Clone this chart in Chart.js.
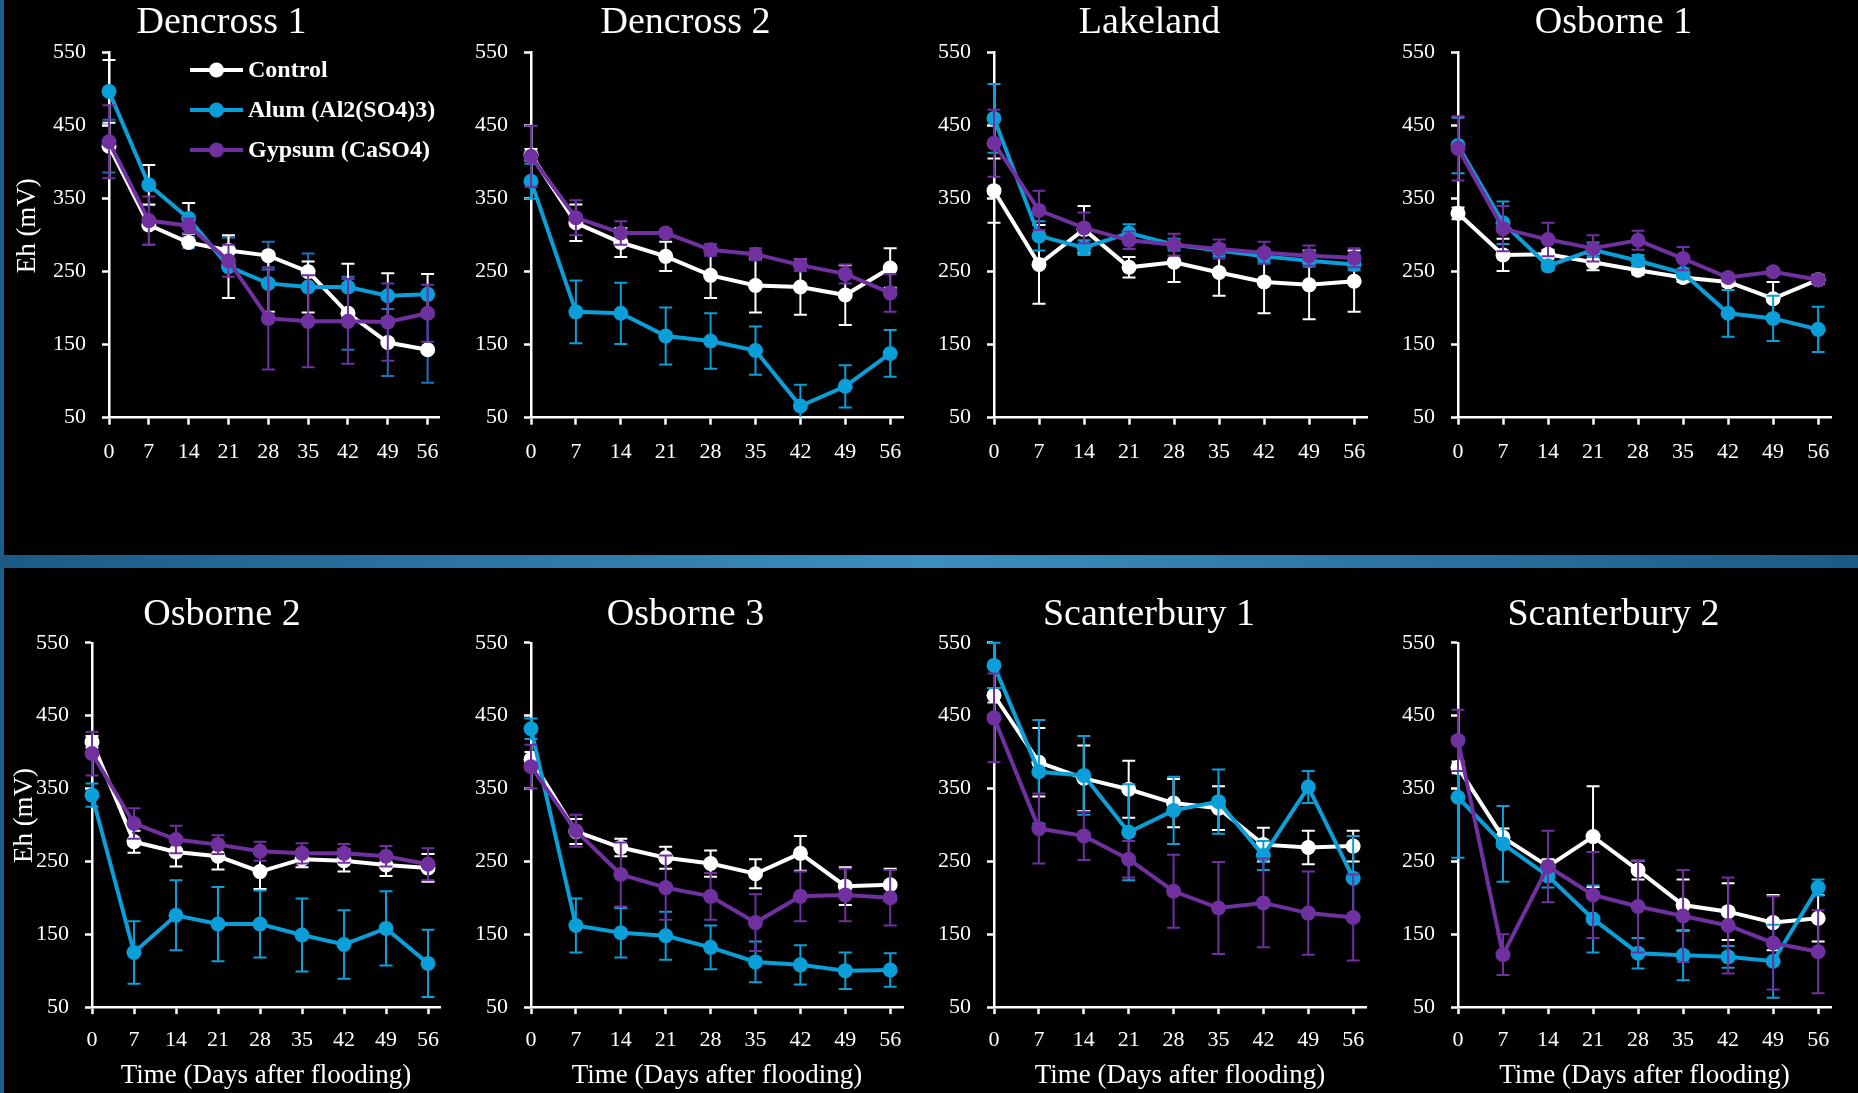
<!DOCTYPE html>
<html>
<head>
<meta charset="utf-8">
<script src="https://cdn.jsdelivr.net/npm/chart.js@4.4.1/dist/chart.umd.min.js"></script>
<style>
  html, body { margin: 0; padding: 0; background: #000; width: 1858px; height: 1093px; overflow: hidden; position: relative; }
  .edge { position: absolute; left: 0; top: 0; width: 4px; height: 1093px; background: #1d5f8c; }
  .band { position: absolute; left: 0; top: 555px; width: 1858px; height: 13px;
          background: linear-gradient(90deg, #1b5a86 0%, #3b8fc0 50%, #1b5a86 100%); }
  canvas { position: absolute; }
</style>
</head>
<body>
<div class="edge"></div>
<div class="band"></div>
<script>
// Sampling days after flooding and the Eh axis ticks
const days = [0, 7, 14, 21, 28, 35, 42, 49, 56];
const ehTicks = [50, 150, 250, 350, 450, 550];

const sites = ['Dencross 1', 'Dencross 2', 'Lakeland', 'Osborne 1',
               'Osborne 2', 'Osborne 3', 'Scanterbury 1', 'Scanterbury 2'];

const seriesNames = ['Control', 'Alum (Al2(SO4)3)', 'Gypsum (CaSO4)'];

// Mean Eh (mV), one row per site
const controlEh = [
  [422, 314, 290, 279, 272, 250, 193, 153, 143],
  [410, 317, 290, 271, 245, 231, 229, 218, 255],
  [361, 260, 308, 256, 263, 249, 236, 232, 237],
  [330, 273, 274, 263, 252, 242, 236, 213, 239],
  [414, 277, 263, 257, 236, 253, 251, 245, 241],
  [390, 291, 269, 255, 247, 233, 261, 216, 218],
  [478, 386, 364, 349, 330, 323, 273, 269, 271],
  [379, 283, 243, 284, 238, 190, 181, 166, 172]
];
const alumEh = [
  [497, 369, 323, 257, 234, 229, 229, 217, 219],
  [374, 195, 193, 162, 155, 142, 66, 93, 138],
  [460, 299, 283, 303, 287, 279, 271, 265, 260],
  [423, 317, 258, 280, 265, 248, 193, 186, 171],
  [341, 125, 176, 164, 164, 149, 136, 158, 110],
  [432, 162, 152, 148, 132, 112, 108, 100, 101],
  [519, 373, 368, 290, 320, 332, 258, 352, 227],
  [338, 274, 230, 171, 124, 121, 119, 113, 214]
];
const gypsumEh = [
  [428, 320, 313, 265, 186, 182, 182, 181, 193],
  [408, 324, 303, 303, 280, 274, 259, 247, 221],
  [426, 334, 310, 293, 287, 281, 276, 272, 269],
  [419, 309, 294, 282, 293, 268, 242, 250, 239],
  [398, 302, 280, 273, 264, 261, 261, 257, 246],
  [380, 292, 232, 214, 202, 166, 202, 204, 200],
  [447, 295, 285, 253, 209, 186, 193, 179, 173],
  [416, 122, 243, 204, 188, 175, 162, 138, 126]
];

// Standard errors (mV)
const controlErr = [
  [36, 27, 8, 18, 19, 25, 50, 46, 45],
  [8, 25, 20, 20, 31, 37, 38, 41, 27],
  [44, 54, 32, 14, 27, 32, 43, 47, 42],
  [8, 22, 6, 11, 6, 6, 6, 23, 6],
  [8, 15, 20, 18, 24, 11, 15, 15, 19],
  [10, 17, 12, 15, 18, 20, 24, 26, 22],
  [10, 47, 45, 39, 33, 30, 23, 23, 21],
  [8, 12, 10, 69, 13, 35, 39, 38, 32]
];
const alumErr = [
  [43, 27, 21, 43, 39, 35, 32, 31, 28],
  [24, 43, 42, 39, 38, 33, 29, 29, 32],
  [47, 20, 10, 12, 8, 8, 8, 8, 8],
  [38, 29, 6, 10, 8, 6, 32, 31, 31],
  [16, 43, 48, 51, 46, 50, 47, 51, 46],
  [14, 37, 34, 33, 30, 28, 27, 25, 23],
  [31, 71, 54, 66, 46, 44, 20, 22, 58],
  [83, 52, 16, 46, 21, 34, 15, 50, 11]
];
const gypsumErr = [
  [50, 33, 10, 22, 70, 63, 58, 53, 39],
  [42, 24, 16, 5, 8, 8, 8, 13, 26],
  [46, 27, 21, 12, 15, 13, 15, 14, 13],
  [44, 31, 23, 18, 13, 16, 5, 5, 5],
  [30, 21, 19, 13, 13, 14, 13, 14, 22],
  [30, 22, 44, 44, 32, 39, 34, 36, 38],
  [61, 48, 33, 25, 50, 63, 61, 57, 59],
  [42, 28, 49, 59, 63, 63, 66, 64, 57]
];

// ---- styling ----
const WHITE = '#ffffff';
const BLUE = '#0a9fd8';
const PURPLE = '#7030a0';
const DARK_BLUE = '#1a74bd';
const FONT = "'Liberation Serif', 'Times New Roman', serif";

Chart.defaults.font.family = FONT;
Chart.defaults.color = WHITE;

// panel frames on the page
const frames = [
  { left: 4,    top: 0,   w: 464, h: 480, yw: 105, pr: 29, tTop: 4.5, tBot: 10.2, yTitle: 7.8, key: true },
  { left: 468,  top: 0,   w: 464, h: 480, yw: 63,  pr: 29, tTop: 4.5, tBot: 10.2 },
  { left: 932,  top: 0,   w: 464, h: 480, yw: 62,  pr: 29, tTop: 4.5, tBot: 10.2 },
  { left: 1396, top: 0,   w: 462, h: 480, yw: 62,  pr: 27, tTop: 4.5, tBot: 10.2 },
  { left: 4,    top: 588, w: 464, h: 505, yw: 88,  pr: 28, tTop: 8.3, tBot: 8.5, yTitle: 4.8, xTitle: true },
  { left: 468,  top: 588, w: 464, h: 505, yw: 63,  pr: 29, tTop: 8.3, tBot: 8.5, xTitle: true },
  { left: 932,  top: 588, w: 464, h: 505, yw: 62,  pr: 30, tTop: 8.3, tBot: 8.5, xTitle: true },
  { left: 1396, top: 588, w: 462, h: 505, yw: 62,  pr: 27, tTop: 8.3, tBot: 8.5, xTitle: true }
];
const axisBottom = [417.7, 1007.1];
const tickPad = [14, 12.7];

// vertical error bars with caps, drawn beneath each series' line
const errorBars = {
  id: 'errorBars',
  beforeDatasetDraw(chart, args) {
    const ds = chart.data.datasets[args.index];
    if (!ds.errors) return;
    const { ctx, chartArea: a } = chart;
    const xs = chart.scales.x, ys = chart.scales.y;
    const cap = 6.5;
    ctx.save();
    ctx.beginPath();
    ctx.rect(a.left - 12, a.top - 2, a.right - a.left + 24, a.bottom - a.top + 1);
    ctx.clip();
    ctx.strokeStyle = ds.errorColor || ds.borderColor;
    ctx.lineWidth = 2;
    ds.data.forEach((p, i) => {
      const e = ds.errors[i];
      if (!e) return;
      const px = xs.getPixelForValue(p.x);
      const hi = ys.getPixelForValue(p.y + e);
      const lo = ys.getPixelForValue(p.y - e);
      ctx.beginPath();
      ctx.moveTo(px, hi); ctx.lineTo(px, lo);
      ctx.moveTo(px - cap, hi); ctx.lineTo(px + cap, hi);
      ctx.moveTo(px - cap, lo); ctx.lineTo(px + cap, lo);
      ctx.stroke();
    });
    ctx.restore();
  }
};

// series key: line sample with a marker, then bold label
const seriesKey = {
  id: 'seriesKey',
  afterDraw(chart, args, opts) {
    if (!opts.show) return;
    const { ctx, chartArea: a } = chart;
    ctx.save();
    chart.data.datasets.forEach((ds, i) => {
      const y = a.top + 17.3 + i * 40;
      const x0 = a.left + 81, x1 = a.left + 134;
      ctx.strokeStyle = ds.borderColor;
      ctx.lineWidth = 4;
      ctx.beginPath(); ctx.moveTo(x0, y); ctx.lineTo(x1, y); ctx.stroke();
      ctx.fillStyle = ds.borderColor;
      ctx.beginPath(); ctx.arc((x0 + x1) / 2, y, 7.5, 0, Math.PI * 2); ctx.fill();
      ctx.fillStyle = WHITE;
      ctx.font = "bold 24px " + FONT;
      ctx.textBaseline = 'middle';
      ctx.textAlign = 'left';
      ctx.fillText(ds.label, a.left + 139, y + 1);
    });
    ctx.restore();
  }
};

function series(label, values, errors, color, order, errColor) {
  return {
    label,
    data: days.map((d, i) => ({ x: d, y: values[i] })),
    errors,
    errorColor: errColor,
    borderColor: color,
    backgroundColor: color,
    pointBackgroundColor: color,
    pointBorderColor: color,
    pointBorderWidth: 0,
    pointRadius: 7.5,
    borderWidth: 4,
    tension: 0,
    clip: false,
    order
  };
}

sites.forEach((site, k) => {
  const f = frames[k];
  const row = f.top === 0 ? 0 : 1;
  const canvas = document.createElement('canvas');
  canvas.width = f.w; canvas.height = f.h;
  canvas.style.left = f.left + 'px';
  canvas.style.top = f.top + 'px';
  canvas.style.width = f.w + 'px';
  canvas.style.height = f.h + 'px';
  document.body.appendChild(canvas);

  const xh = f.top + f.h - axisBottom[row];
  // the first panel's control and alum error bars carry swapped colours
  const swap = k === 0;

  new Chart(canvas, {
    type: 'line',
    data: {
      datasets: [
        series(seriesNames[0], controlEh[k], controlErr[k], WHITE, 3, swap ? DARK_BLUE : WHITE),
        series(seriesNames[1], alumEh[k], alumErr[k], BLUE, 2, swap ? WHITE : BLUE),
        series(seriesNames[2], gypsumEh[k], gypsumErr[k], PURPLE, 1, PURPLE)
      ]
    },
    options: {
      responsive: false,
      animation: false,
      devicePixelRatio: 1,
      layout: { padding: { left: 0, right: f.pr, top: 0, bottom: 0 } },
      plugins: {
        legend: { display: false },
        tooltip: { enabled: false },
        title: {
          display: true,
          text: site,
          color: WHITE,
          font: { size: 38, weight: 'normal', lineHeight: 1 },
          padding: { top: f.tTop, bottom: f.tBot }
        },
        seriesKey: { show: !!f.key }
      },
      scales: {
        x: {
          type: 'linear',
          min: 0,
          max: 58,
          afterBuildTicks: s => { s.ticks = days.map(v => ({ value: v })); },
          afterFit: s => { s.height = xh; },
          ticks: { color: WHITE, font: { size: 22 }, padding: tickPad[row], autoSkip: false, maxRotation: 0 },
          grid: { display: true, drawOnChartArea: false, drawTicks: true, tickLength: 7, tickColor: WHITE, tickWidth: 2.5 },
          border: { display: true, color: WHITE, width: 2.5 },
          title: {
            display: !!f.xTitle,
            text: 'Time (Days after flooding)',
            color: WHITE,
            font: { size: 27, lineHeight: 1.2 },
            padding: { top: 0, bottom: 0.5 }
          }
        },
        y: {
          type: 'linear',
          min: 50,
          max: 550,
          afterBuildTicks: s => { s.ticks = ehTicks.map(v => ({ value: v })); },
          afterFit: s => { s.width = f.yw; },
          ticks: { color: WHITE, font: { size: 22 }, padding: 16 },
          grid: { display: true, drawOnChartArea: false, drawTicks: true, tickLength: 7, tickColor: WHITE, tickWidth: 2.5 },
          border: { display: true, color: WHITE, width: 2.5 },
          title: {
            display: f.yTitle !== undefined,
            // leading spaces lift the rotated label slightly above the axis midpoint
            text: '\u2002\u2009Eh (mV)',
            color: WHITE,
            font: { size: 27, lineHeight: 1.2 },
            padding: { top: f.yTitle || 0, bottom: 0 }
          }
        }
      }
    },
    plugins: [errorBars, seriesKey]
  });
});
</script>
</body>
</html>
